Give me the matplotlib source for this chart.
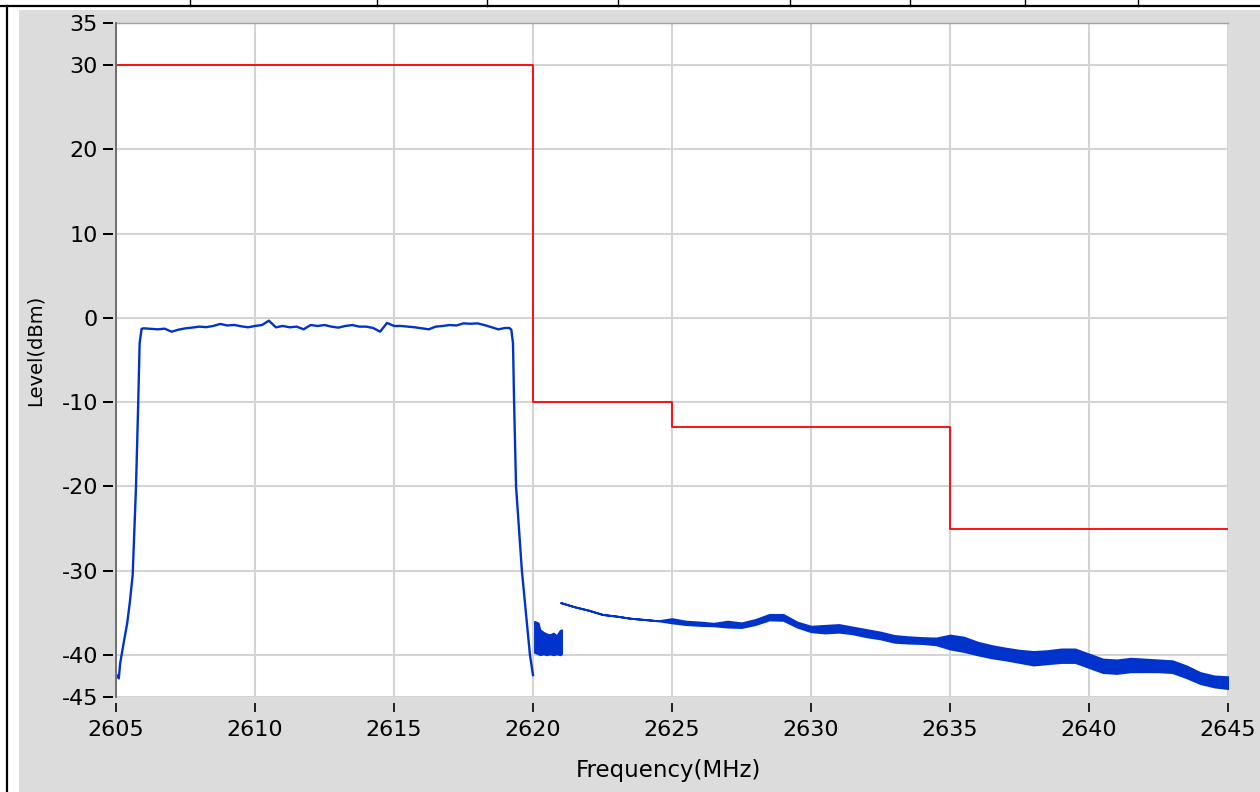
import numpy as np
import matplotlib
matplotlib.use('Agg')
import matplotlib.pyplot as plt
from matplotlib.patches import Rectangle
from matplotlib.lines import Line2D

plt.rcParams['axes.unicode_minus'] = False

# limit mask (red)
mask_freq = [2605, 2620, 2620, 2625, 2625, 2635, 2635, 2645]
mask_level = [30, 30, -10, -10, -13, -13, -25, -25]

# carrier: rising edge, flat top, falling edge
rise_freq = [2605.0, 2605.1, 2605.15, 2605.28, 2605.4, 2605.5, 2605.6, 2605.72, 2605.8, 2605.85, 2605.92]
rise_level = [-42.3, -42.8, -41.0, -38.5, -36.3, -33.7, -30.5, -20.0, -10.0, -3.0, -1.3]

top_freq = np.arange(2606.0, 2619.01, 0.25)
top_level = [-1.24, -1.3, -1.36, -1.28, -1.64, -1.4, -1.24, -1.15, -1.04, -1.1,
             -0.96, -0.72, -0.9, -0.84, -1.0, -1.12, -0.96, -0.85, -0.33, -1.12,
             -0.96, -1.12, -1.04, -1.36, -0.85, -0.96, -0.85, -1.04, -1.16, -0.96,
             -0.85, -1.04, -1.04, -1.2, -1.64, -0.6, -0.96, -0.96, -1.04, -1.12,
             -1.24, -1.36, -1.04, -0.96, -0.85, -0.9, -0.65, -0.7, -0.65, -0.85,
             -1.1, -1.36, -1.2]

fall_freq = [2619.15, 2619.22, 2619.28, 2619.32, 2619.39, 2619.6, 2619.89, 2620.0]
fall_level = [-1.2, -1.4, -3.0, -10.0, -20.0, -30.0, -40.0, -42.4]

# noisy block just above 2620
blk_freq = [2620.05, 2620.19, 2620.25, 2620.37, 2620.49, 2620.61, 2620.73, 2620.85, 2620.97, 2621.03]
blk_hi = [-36.0, -36.2, -37.0, -37.3, -37.5, -37.6, -37.4, -37.7, -37.1, -37.0]
blk_lo = [-39.7, -39.9, -40.0, -39.9, -40.0, -39.9, -40.0, -39.9, -40.0, -39.9]

# spurious floor 2621-2645 (upper / lower edge of trace)
floor_freq = np.arange(2621.0, 2645.01, 0.5)
floor_hi = [-33.8, -34.3, -34.7, -35.2, -35.4, -35.65, -35.8, -35.95, -35.7, -36.0,
            -36.1, -36.25, -36.0, -36.2, -35.8, -35.2, -35.2, -36.1, -36.6, -36.5,
            -36.4, -36.7, -37.0, -37.3, -37.7, -37.85, -37.95, -38.0, -37.65, -37.9,
            -38.5, -38.9, -39.2, -39.45, -39.6, -39.5, -39.3, -39.3, -39.9, -40.5,
            -40.6, -40.4, -40.5, -40.6, -40.7, -41.3, -42.1, -42.5, -42.6]
floor_lo = [-33.8, -34.3, -34.7, -35.2, -35.4, -35.65, -35.8, -35.95, -36.2, -36.4,
            -36.5, -36.55, -36.7, -36.75, -36.4, -35.85, -35.9, -36.7, -37.25, -37.4,
            -37.3, -37.5, -37.85, -38.1, -38.5, -38.6, -38.65, -38.8, -39.3, -39.6,
            -40.0, -40.35, -40.6, -40.9, -41.2, -41.05, -40.9, -40.9, -41.5, -42.1,
            -42.2, -42.0, -42.0, -42.0, -42.1, -42.7, -43.4, -43.8, -44.0]

xticks = list(range(2605, 2646, 5))
yticks = [35, 30, 20, 10, 0, -10, -20, -30, -40, -45]

W, H = 1260, 792
fig = plt.figure(figsize=(W / 100, H / 100), dpi=100, facecolor='white')

# gray panel + black frame lines of the surrounding table
fig.patches.append(Rectangle((19 / W, 0), 1 - 19 / W, 1 - 10 / H, transform=fig.transFigure,
                             facecolor='#dcdcdc', edgecolor='none', zorder=-10))
fig.add_artist(Line2D([0, 1], [1 - 5.5 / H] * 2, color='black', lw=1.6))
fig.add_artist(Line2D([7 / W] * 2, [0, 1 - 5.5 / H], color='black', lw=1.6))
for px in [190, 377, 487, 618, 790, 910, 1025, 1138]:
    fig.add_artist(Line2D([px / W] * 2, [1 - 5.5 / H, 1], color='black', lw=1.0))

ax = fig.add_axes([116 / W, 1 - 697 / H, (1228 - 116) / W, (697 - 23) / H])
ax.set_zorder(5)
ax.set_facecolor('white')

blue = '#0033cc'
ax.plot(mask_freq, mask_level, color='#ff0000', lw=1.3, zorder=3)
ax.plot(rise_freq + list(top_freq) + fall_freq, rise_level + top_level + fall_level,
        color=blue, lw=1.7, zorder=4)
ax.fill_between(blk_freq, blk_lo, blk_hi, color=blue, lw=1.2, zorder=4)
ax.fill_between(floor_freq, floor_lo, floor_hi, color=blue, lw=1.4, zorder=4)

ax.set_xlim(2605, 2645)
ax.set_ylim(-45, 35)
ax.set_xticks(xticks)
ax.set_yticks(yticks)
ax.grid(True, color='#d4d4d4', lw=1.5, zorder=1)
ax.set_axisbelow(True)

for s in ['right', 'bottom', 'left']:
    ax.spines[s].set_visible(False)
ax.spines['top'].set_color('#a0a0a0')
ax.spines['top'].set_linewidth(1.0)
ax.spines['left'].set_position(('outward', 2.2))
ax.spines['bottom'].set_position(('outward', 4.3))
ax.plot([0, 0], [0, 1], transform=ax.transAxes, color='#707070', lw=1.4, clip_on=False, zorder=5)

ax.tick_params(axis='y', direction='out', length=7.2, width=1.4, pad=3.5,
               labelsize=16, colors='black')
ax.tick_params(axis='x', direction='out', length=6.3, width=1.2, pad=6,
               labelsize=16, colors='black')

ax.set_ylabel('Level(dBm)', fontsize=14)
ax.yaxis.set_label_coords((35 - 116) / (1228 - 116), 1 - (350 - 23) / (697 - 23))
ax.yaxis.label.set_va('center')
ax.set_xlabel('Frequency(MHz)', fontsize=16.5)
ax.xaxis.set_label_coords((668 - 116) / (1228 - 116), -(771 - 697) / (697 - 23))
ax.xaxis.label.set_va('center')

fig.savefig('out.png', dpi=100)
